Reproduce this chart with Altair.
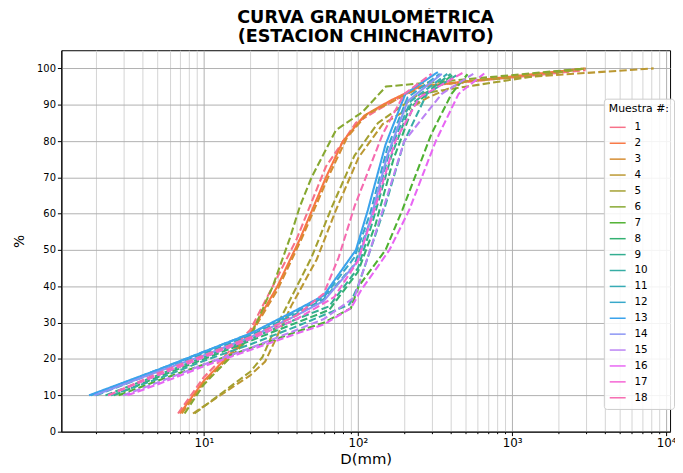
import math
import altair as alt
import pandas as pd

# ---------------- data ----------------
m1_d = [6.8, 10, 20, 28, 40, 62, 97, 140, 250, 3000]
m1_p = [5, 15, 28, 40, 53, 73, 85, 89, 95, 99.5]
m2_d = [7.0, 10, 20, 30, 42, 62, 80, 110, 160, 250, 3000]
m2_p = [5, 14, 27, 40, 53, 70, 80, 87, 91, 95, 100]
m3_d = [7.2, 10, 20, 30, 43, 64, 85, 115, 170, 260, 2800]
m3_p = [5, 13.5, 26.5, 39, 53, 70, 81, 87.5, 91, 95, 99.8]
m4_d = [8.5, 20, 25, 30, 37, 54, 72, 101, 145, 285, 500, 8300]
m4_p = [5, 15.5, 19.3, 26.4, 34.7, 47.4, 61, 75.5, 84.7, 92, 96.5, 100]
m5_d = [8.7, 20, 24, 28, 35, 50, 68, 95, 135, 250, 3000]
m5_p = [5, 16.5, 20.5, 27, 35, 48, 62, 76, 85, 93, 100]
m6_d = [7.5, 10, 20, 28, 36, 42, 50, 72, 107, 152, 3000]
m6_p = [5, 13, 26, 40, 53, 62, 70, 83, 88, 95, 100]
m7_d = [2.8, 5, 10, 20, 40, 60, 90, 101, 151, 194, 300, 405, 514]
m7_p = [10, 14, 18.5, 23, 27.5, 30, 34, 40, 50, 61, 82, 93, 98.4]
m8_d = [2.6, 5, 10, 20, 40, 65, 100, 130, 170, 230, 420]
m8_p = [10, 15, 20, 25, 30, 33.5, 44, 57, 75, 90, 98.5]
m9_d = [2.3, 5, 10, 20, 40, 65, 100, 125, 165, 220, 400]
m9_p = [10, 15.5, 20.5, 25.5, 31, 34.5, 45, 58, 76, 90, 98.5]
m10_d = [2.5, 5, 10, 20, 40, 88, 100, 150, 200, 280, 450]
m10_p = [10, 14.5, 19.5, 24, 29, 35, 40, 62, 80, 93, 98.5]
m11_d = [2.0, 5, 10, 20, 40, 60, 95, 125, 160, 220, 380]
m11_p = [10, 16.5, 21.5, 26.5, 32.5, 36.5, 46, 60, 77, 91, 98.5]
m12_d = [1.85, 5, 10, 20, 40, 60, 95, 120, 155, 210, 340]
m12_p = [10, 17, 22, 27, 33, 37, 48, 60, 78, 92, 98.5]
m13_d = [1.8, 5, 10, 20, 40, 60, 97, 116, 151, 203, 330]
m13_p = [10, 17, 22, 27, 33.5, 37.5, 50, 61, 79, 93, 99]
m14_d = [1.95, 5, 10, 20, 40, 60, 100, 120, 155, 210, 350]
m14_p = [10, 16.5, 21, 26, 32, 36, 47, 58, 76, 91, 98.5]
m15_d = [3.0, 5, 10, 20, 40, 60, 95, 120, 145, 200, 350, 560]
m15_p = [10, 13.5, 18.5, 23, 28, 31, 37, 50, 61, 80, 93, 98.5]
m16_d = [3.2, 5, 10, 20, 40, 60, 90, 105, 160, 215, 320, 450, 660]
m16_p = [10, 13, 18, 22.5, 27, 29.5, 34, 39, 50, 61, 80, 93, 98.6]
m17_d = [2.4, 5, 10, 20, 40, 70, 100, 130, 175, 250, 480]
m17_p = [10, 15.5, 20.5, 25.5, 31, 37, 47, 62, 80, 92, 98.8]
m18_d = [2.4, 5, 10, 20, 40, 60, 75, 95, 145, 200, 300]
m18_p = [10, 16, 21, 26, 32, 38, 48, 62, 82, 93, 98.5]

muestras = [str(i) for i in range(1, 19)]
solid_muestras = ["2", "13", "14"]

series_d = [m1_d, m2_d, m3_d, m4_d, m5_d, m6_d, m7_d, m8_d, m9_d,
            m10_d, m11_d, m12_d, m13_d, m14_d, m15_d, m16_d, m17_d, m18_d]
series_p = [m1_p, m2_p, m3_p, m4_p, m5_p, m6_p, m7_p, m8_p, m9_p,
            m10_p, m11_p, m12_p, m13_p, m14_p, m15_p, m16_p, m17_p, m18_p]

x_minor = [k * 10 ** e for e in range(0, 4) for k in range(2, 10)] + [10, 100, 1000, 10000]
x_minor = sorted(set(x_minor))
y_ticks = list(range(0, 101, 10))


# ---------------- husl palette (seaborn "husl", 18 colours) ----------------
def _husl_to_hex(h, s, l):
    M = [[3.2406, -1.5372, -0.4986], [-0.9689, 1.8758, 0.0415], [0.0557, -0.2040, 1.0570]]
    refU, refV = 0.19784, 0.46834
    hrad = math.radians(h)
    sinH, cosH = math.sin(hrad), math.cos(hrad)
    sub1 = (l + 16) ** 3 / 1560896.0
    sub2 = sub1 if sub1 > 0.008856 else l / 903.3
    mx = float("inf")
    for m1, m2, m3 in M:
        top = (0.99915 * m1 + 1.05122 * m2 + 1.14460 * m3) * sub2
        rb = 0.86330 * m3 - 0.17266 * m2
        lb = 0.12949 * m3 - 0.38848 * m1
        bottom = (rb * sinH + lb * cosH) * sub2
        for t in (0.0, 1.0):
            C = l * (top - 1.05122 * t) / (bottom + 0.17266 * sinH * t)
            if 0 < C < mx:
                mx = C
    C = mx / 100 * s
    U, V = C * cosH, C * sinH
    t = (l + 16) / 116.0
    varY = t ** 3 if t ** 3 > 0.008856 else (116 * t - 16) / 903.3
    varU = U / (13 * l) + refU
    varV = V / (13 * l) + refV
    Y = varY
    X = -(9 * Y * varU) / ((varU - 4) * varV - varU * varV)
    Z = (9 * Y - 15 * varV * Y - varV * X) / (3 * varV)
    out = []
    for row in M:
        c = row[0] * X + row[1] * Y + row[2] * Z
        c = 12.92 * c if c <= 0.0031308 else 1.055 * c ** (1 / 2.4) - 0.055
        c = min(max(c, 0.0), 1.0)
        out.append(int(round(c * 255)))
    return "#%02x%02x%02x" % tuple(out)


n = len(muestras)
colors = [_husl_to_hex(((i / n) + 0.01) % 1 * 359, 0.9 * 99, 0.65 * 99) for i in range(n)]

# ---------------- table ----------------
rows = []
for name, ds, ps in zip(muestras, series_d, series_p):
    style = "solid" if name in solid_muestras else "dashed"
    for k, (d, p) in enumerate(zip(ds, ps)):
        rows.append({"Muestra": name, "D": d, "P": p, "estilo": style, "k": k})
df = pd.DataFrame(rows)

major_test = "datum.value == 10 || datum.value == 100 || datum.value == 1000 || datum.value == 10000"
label_expr = ("datum.value == 10 ? '10¹' : datum.value == 100 ? '10²' : "
              "datum.value == 1000 ? '10³' : datum.value == 10000 ? '10⁴' : ''")

x_axis = alt.Axis(
    values=x_minor, labelExpr=label_expr, title="D(mm)",
    grid=True,
    gridColor={"condition": {"test": major_test, "value": "#b0b0b0"}, "value": "#d3d3d3"},
    tickSize={"condition": {"test": major_test, "value": 4}, "value": 2},
    tickColor="black", domainColor="black", labelFlush=False, labelOverlap=False,
    labelFontSize=12, labelColor="black", labelPadding=2,
    titleFontSize=15, titleFontWeight="normal", titleColor="black", titlePadding=3,
)
y_axis = alt.Axis(
    values=y_ticks, title="%", grid=True, gridColor="#b0b0b0",
    tickSize=4, tickColor="black", domainColor="black",
    labelFontSize=10, labelColor="black", labelPadding=2,
    titleFontSize=14, titleFontWeight="normal", titleColor="black", titlePadding=10,
)

chart = alt.Chart(df).mark_line(strokeWidth=2.1, clip=True).encode(
    x=alt.X("D:Q", scale=alt.Scale(type="log", domain=[1.19, 10600], nice=False), axis=x_axis),
    y=alt.Y("P:Q", scale=alt.Scale(domain=[0, 105], nice=False, zero=False), axis=y_axis),
    color=alt.Color(
        "Muestra:N",
        scale=alt.Scale(domain=muestras, range=colors),
        sort=muestras,
        legend=alt.Legend(
            title="Muestra #:", orient="none", legendX=549, legendY=49,
            titleFontSize=11, titleFontWeight="normal", titleColor="black",
            labelFontSize=10.5, labelColor="black",
            symbolType="stroke", symbolSize=260, symbolStrokeWidth=1.5,
            rowPadding=1.1, labelOffset=8, padding=5, titlePadding=4,
            fillColor="rgba(255,255,255,0.85)", strokeColor="#cccccc",
            cornerRadius=3,
        ),
    ),
    strokeDash=alt.StrokeDash(
        "estilo:N",
        scale=alt.Scale(domain=["solid", "dashed"], range=[[1, 0], [7.5, 3.2]]),
        legend=None,
    ),
    detail="Muestra:N",
    order="k:Q",
).properties(
    width=616, height=386,
    title=alt.TitleParams(
        ["CURVA GRANULOMÉTRICA", "(ESTACION CHINCHAVITO)"],
        font="DejaVu Sans", fontSize=17.8, fontWeight="bold", color="black",
        anchor="middle", offset=5, lineHeight=19,
    ),
    autosize=alt.AutoSizeParams(type="none"),
    padding={"left": 54, "top": 40, "right": 5, "bottom": 33},
).configure(
    font="DejaVu Sans",
).configure_view(
    stroke="black", strokeWidth=1,
)

chart.save("out.html", embed_options={"renderer": "svg", "actions": False})
